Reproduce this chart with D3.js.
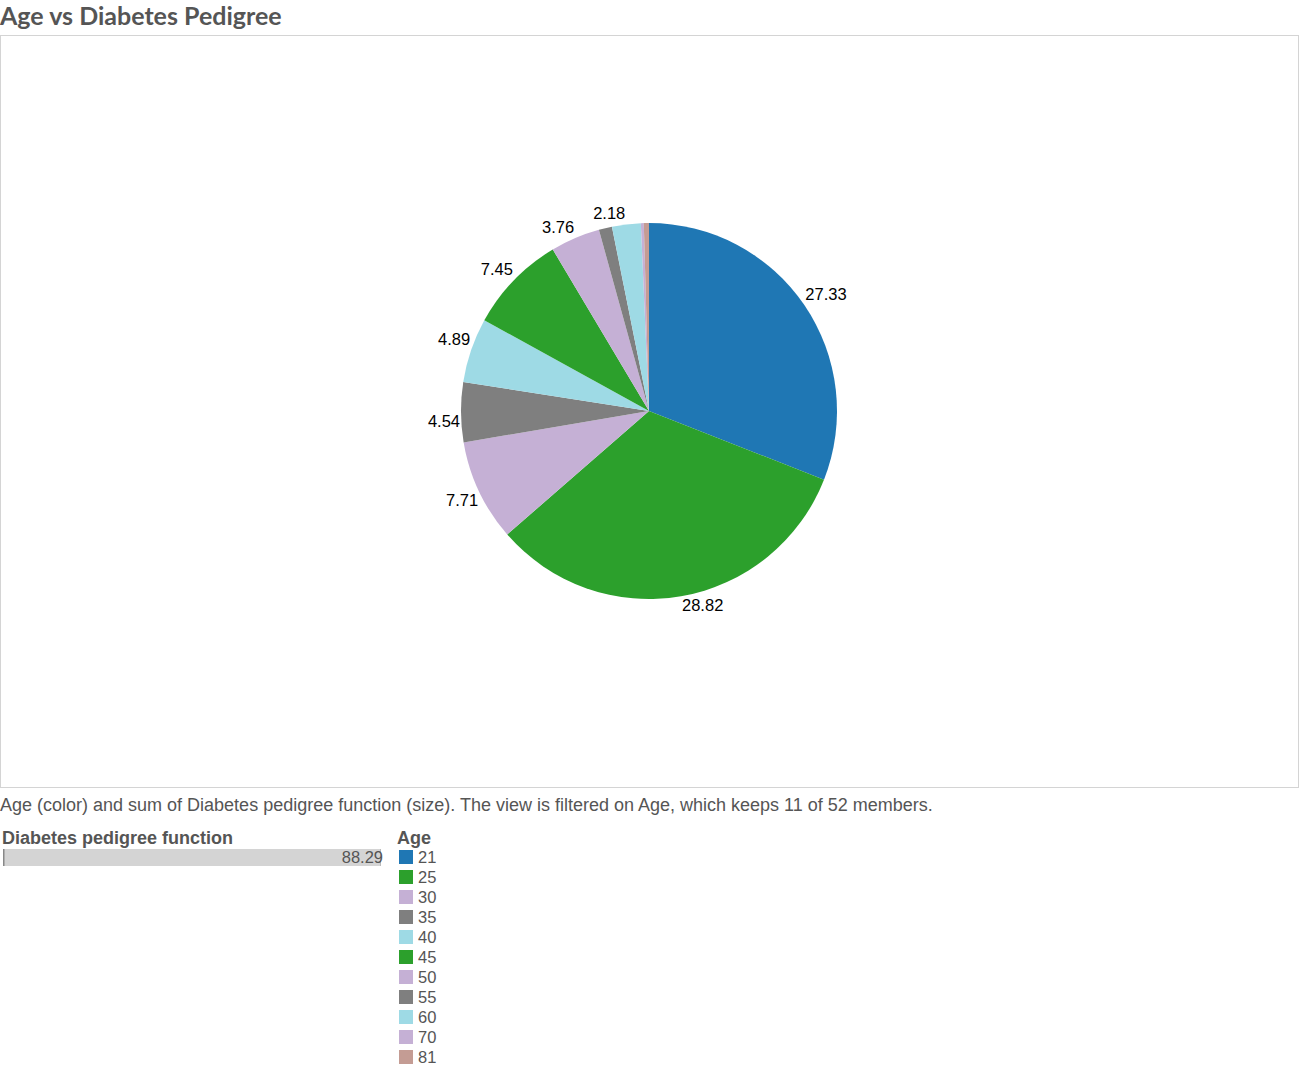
<!DOCTYPE html>
<html>
<head>
<meta charset="UTF-8">
<title>Age vs Diabetes Pedigree</title>
<script src="https://d3js.org/d3.v7.min.js"></script>
<style>
    body { margin: 0; background: #fff; font-family: 'Liberation Sans', Arial, sans-serif; }
    .title { font-family: 'Lato', sans-serif; font-weight: bold; font-size: 25px; fill: #555; }
    .frame { fill: none; stroke: #d4d4d4; }
    .slice-label { font-size: 16.5px; fill: #000; }
    .caption { font-size: 18px; fill: #555; }
    .legend-title { font-size: 18px; font-weight: bold; fill: #555; }
    .legend text { font-size: 16.5px; fill: #555; }
</style>
</head>
<body>
<script>
    // data
    var ages = ["21", "25", "30", "35", "40", "45", "50", "55", "60", "70", "81"];
    var pedigree = [27.33, 28.82, 7.71, 4.54, 4.89, 7.45, 3.76, 1.00, 2.18, 0.22, 0.39];
    var colors = ["#1f77b4", "#2ca02c", "#c5b0d5", "#7f7f7f", "#9edae5", "#2ca02c",
                  "#c5b0d5", "#7f7f7f", "#9edae5", "#c5b0d5", "#c49c94"];
    var total = 88.29;

    var width = 1300, height = 1069;
    var svg = d3.select("body").append("svg")
        .attr("width", width)
        .attr("height", height);

    svg.append("text").attr("class", "title")
        .attr("x", 0).attr("y", 25)
        .text("Age vs Diabetes Pedigree");

    svg.append("rect").attr("class", "frame")
        .attr("x", 0.5).attr("y", 35.5)
        .attr("width", 1298).attr("height", 752);

    // pie
    var cx = 649, cy = 411, r = 188;
    var rows = ages.map(function(a, i) { return {age: a, value: pedigree[i], color: colors[i]}; });
    var pie = d3.pie().sort(null).value(function(d) { return d.value; });
    var arc = d3.arc().innerRadius(0).outerRadius(r);
    var arcs = pie(rows);

    var g = svg.append("g").attr("transform", "translate(" + cx + "," + cy + ")");
    g.selectAll("path")
        .data(arcs)
        .enter().append("path")
        .attr("d", arc)
        .attr("fill", function(d) { return d.data.color; });

    // labels: a corner of the text box sits on the rim at the slice's mid angle
    g.selectAll("text")
        .data(arcs.filter(function(d) { return d.data.value >= 1.5; }))
        .enter().append("text")
        .attr("class", "slice-label")
        .attr("text-anchor", function(d) {
            var a = (d.startAngle + d.endAngle) / 2;
            return Math.sin(a) >= 0 ? "start" : "end";
        })
        .attr("x", function(d) {
            var a = (d.startAngle + d.endAngle) / 2;
            var s = Math.sin(a);
            return r * s + (s >= 0 ? 1 : -1);
        })
        .attr("y", function(d) {
            var a = (d.startAngle + d.endAngle) / 2;
            var c = Math.cos(a);
            return -r * c + (c >= 0 ? -5 : 14.5);
        })
        .text(function(d) { return d.data.value.toFixed(2); });

    svg.append("text").attr("class", "caption")
        .attr("x", 0).attr("y", 811)
        .text("Age (color) and sum of Diabetes pedigree function (size). The view is filtered on Age, which keeps 11 of 52 members.");

    // size legend
    svg.append("text").attr("class", "legend-title")
        .attr("x", 2).attr("y", 844)
        .text("Diabetes pedigree function");
    var sizeScale = d3.scaleLinear().domain([0, total]).range([3, 381]);
    svg.append("rect")
        .attr("x", sizeScale(0)).attr("y", 849)
        .attr("width", sizeScale(total) - sizeScale(0)).attr("height", 17)
        .attr("fill", "#d4d4d4");
    svg.append("rect")
        .attr("x", sizeScale(0)).attr("y", 849)
        .attr("width", 1.5).attr("height", 17)
        .attr("fill", "#888");
    svg.append("rect")
        .attr("x", sizeScale(total) - 1).attr("y", 849)
        .attr("width", 1).attr("height", 17)
        .attr("fill", "#bbb");
    svg.append("text")
        .attr("x", sizeScale(total) + 2).attr("y", 863)
        .attr("text-anchor", "end")
        .style("font-size", "16.5px").style("fill", "#555")
        .text(total.toFixed(2));

    // color legend
    svg.append("text").attr("class", "legend-title")
        .attr("x", 397).attr("y", 844)
        .text("Age");
    var legend = svg.append("g").attr("class", "legend");
    var item = legend.selectAll("g")
        .data(rows)
        .enter().append("g")
        .attr("transform", function(d, i) { return "translate(399," + (850 + i * 20) + ")"; });
    item.append("rect")
        .attr("width", 14).attr("height", 14)
        .attr("fill", function(d) { return d.color; });
    item.append("text")
        .attr("x", 19).attr("y", 13)
        .text(function(d) { return d.age; });
</script>
</body>
</html>
